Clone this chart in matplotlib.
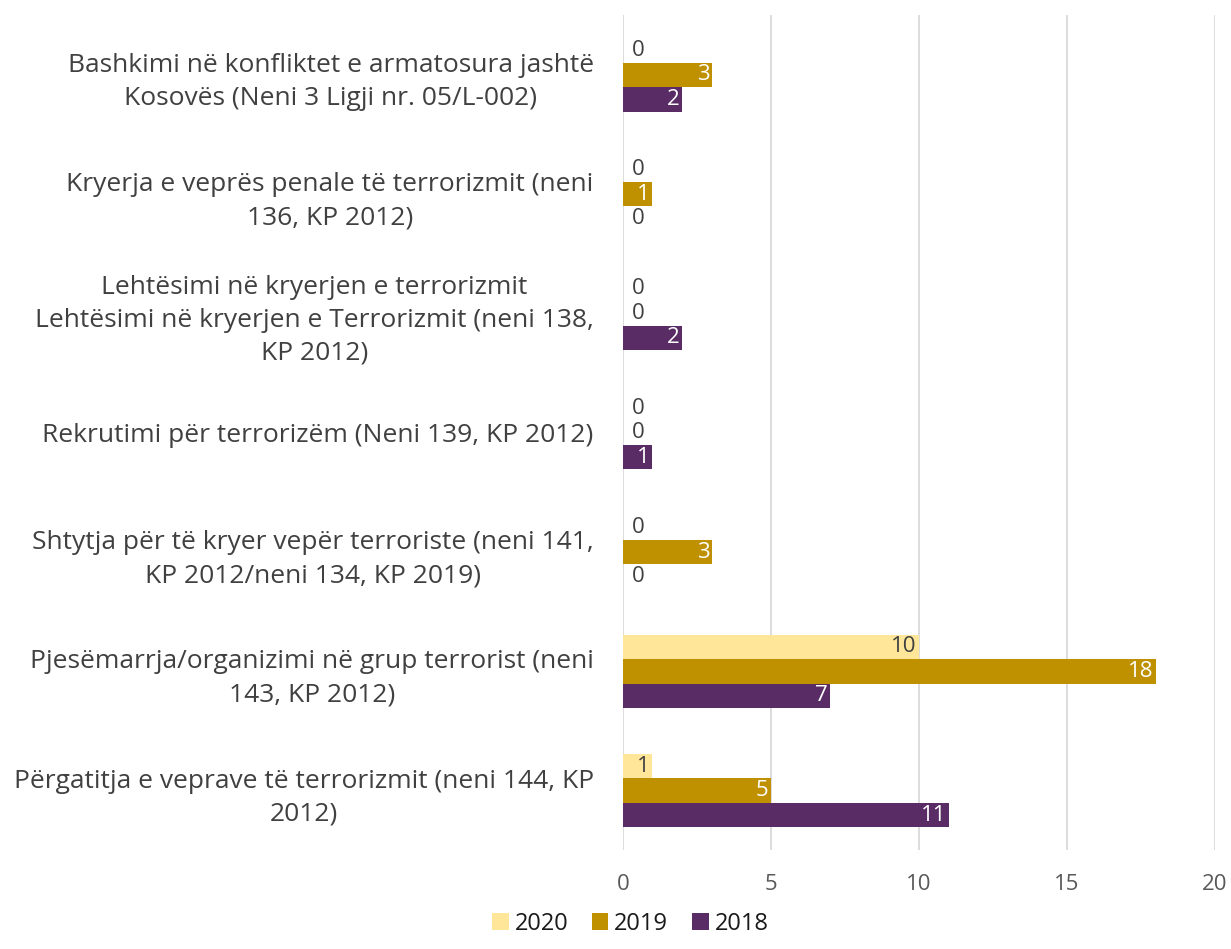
import numpy as np
import matplotlib.pyplot as plt

plt.rcParams['font.family'] = ['Open Sans', 'DejaVu Sans']

kategorite = [
    "Bashkimi në konfliktet e armatosura jashtë\nKosovës (Neni 3 Ligji nr. 05/L-002)",
    "Kryerja e veprës penale të terrorizmit (neni\n136, KP 2012)",
    "Lehtësimi në kryerjen e terrorizmit\nLehtësimi në kryerjen e Terrorizmit (neni 138,\nKP 2012)",
    "Rekrutimi për terrorizëm (Neni 139, KP 2012)",
    "Shtytja për të kryer vepër terroriste (neni 141,\nKP 2012/neni 134, KP 2019)",
    "Pjesëmarrja/organizimi në grup terrorist (neni\n143, KP 2012)",
    "Përgatitja e veprave të terrorizmit (neni 144, KP\n2012)",
]
v2020 = [0, 0, 0, 0, 0, 10, 1]
v2019 = [3, 1, 0, 0, 3, 18, 5]
v2018 = [2, 0, 2, 1, 0, 7, 11]

seri = [
    ("2020", v2020, "#FFE699", "#404040"),
    ("2019", v2019, "#BF9000", "white"),
    ("2018", v2018, "#592C66", "white"),
]

fig = plt.figure(figsize=(12.31, 9.49), dpi=100)
ax = fig.add_axes([0.506, 0.104, 0.481, 0.880])

y = np.arange(len(kategorite))
h = 0.205
for i, (emri, vlerat, ngjyra, ngj_tekst) in enumerate(seri):
    pos = y + (i - 1) * h
    ax.barh(pos, vlerat, height=h, color=ngjyra, linewidth=0,
            label=emri, zorder=3)
    for p, v in zip(pos, vlerat):
        if v == 0:
            ax.text(0.3, p, "0", ha='left', va='center', fontsize=16,
                    color='#404040', zorder=4)
        else:
            ax.text(v - 0.08, p, str(v), ha='right', va='center', fontsize=16,
                    color=ngj_tekst, zorder=4)

ax.set_ylim(len(kategorite) - 0.5, -0.5)
ax.set_xlim(0, 20)
ax.set_xticks([0, 5, 10, 15, 20])
ax.set_yticks(y)
ax.set_yticklabels(kategorite, fontsize=19, color='#404040',
                   multialignment='center', linespacing=1.42)
ax.tick_params(axis='y', length=0, pad=21)
ax.tick_params(axis='x', length=0, pad=17, labelsize=16, labelcolor='#595959')
ax.grid(axis='x', color='#D9D9D9', linewidth=1.3, zorder=0)
for s in ax.spines.values():
    s.set_visible(False)

fig.legend(loc='lower center', bbox_to_anchor=(0.512, 0.0), ncol=3,
           frameon=False, fontsize=17, handlelength=0.7, handleheight=0.7,
           handletextpad=0.25, columnspacing=1.0, labelcolor='#1a1a1a',
           borderpad=0.05)

fig.savefig("out.png", dpi=100)
